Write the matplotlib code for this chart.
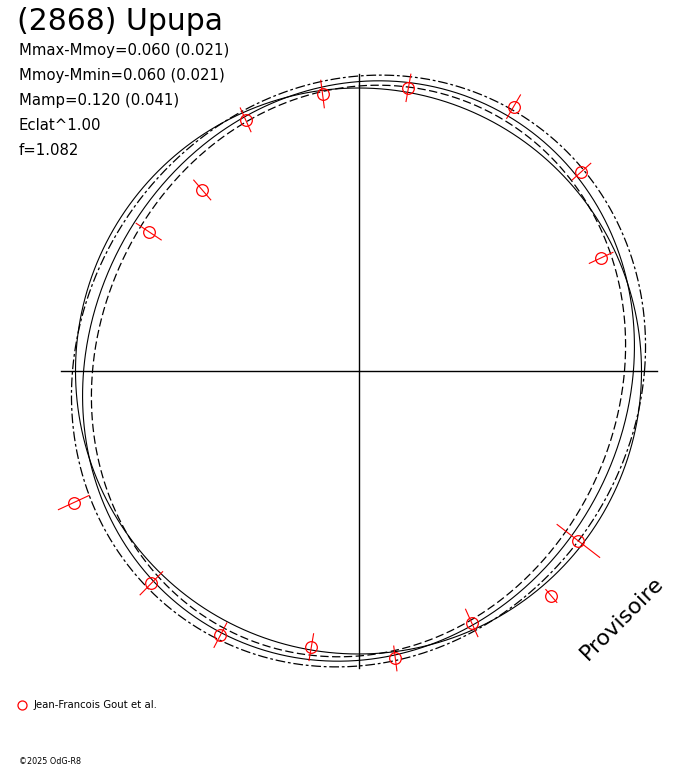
import numpy as np
import matplotlib
matplotlib.use('Agg')
from matplotlib import pyplot as plt

plt.rcParams['font.family'] = ['DejaVu Sans']
plt.rcParams['lines.scale_dashes'] = False

# texts
title = '(2868) Upupa'
info = ['Mmax-Mmoy=0.060 (0.021)', 'Mmoy-Mmin=0.060 (0.021)',
        'Mamp=0.120 (0.041)', 'Eclat^1.00', 'f=1.082']
observer = 'Jean-Francois Gout et al.'

# observations: angle (deg), radius (ref circle = 1), half error bar
obs_ang = [25.0, 41.8, 59.6, 80.0, 97.4, 114.2, 130.8, 146.4,
           204.8, 225.7, 242.4, 260.3, 277.3, 294.2, 310.6, 322.3]
obs_r = [0.946, 1.057, 1.083, 1.016, 0.987, 0.973, 0.845, 0.890,
         1.108, 1.048, 1.053, 0.990, 1.024, 0.976, 1.047, 0.982]
obs_err = [0.046, 0.044, 0.048, 0.049, 0.049, 0.046, 0.046, 0.053,
           0.060, 0.057, 0.049, 0.048, 0.044, 0.053, 0.030, 0.095]

# lightcurve model, 2nd harmonic: mean, cos(2t), sin(2t)
model = [0.997, -0.0256, 0.0400]
upper = [1.0265, -0.0159, 0.0420]
lower = [0.9735, -0.0336, 0.0400]

R = 283.0  # px of reference circle
cx, cy = 358.5, 371.0

fig = plt.figure(figsize=(6.88, 7.68), dpi=100)
ax = fig.add_axes([0, 0, 1, 1])
ax.set_xlim(-cx / R, (688 - cx) / R)
ax.set_ylim(-(768 - cy) / R, cy / R)
ax.axis('off')

ax.plot([-1.053, 1.056], [0, 0], color='black', lw=1.0)
ax.plot([0, 0], [-1.05, 1.05], color='black', lw=1.0)

t = np.radians(np.linspace(0, 360, 721))
ax.plot(np.cos(t), np.sin(t), color='black', lw=0.8)

def curve(c):
    return c[0] + c[1] * np.cos(2 * t) + c[2] * np.sin(2 * t)

r = curve(model)
ax.plot(r * np.cos(t), r * np.sin(t), color='black', lw=0.8)
r = curve(upper)
ax.plot(r * np.cos(t), r * np.sin(t), color='black', lw=0.9, dashes=(7, 2, 2, 2))
r = curve(lower)
ax.plot(r * np.cos(t), r * np.sin(t), color='black', lw=0.9, dashes=(6, 2.5))

a = np.radians(obs_ang)
rr = np.array(obs_r)
ee = np.array(obs_err)
for ai, ri, ei in zip(a, rr, ee):
    ax.plot([(ri - ei) * np.cos(ai), (ri + ei) * np.cos(ai)],
            [(ri - ei) * np.sin(ai), (ri + ei) * np.sin(ai)], color='red', lw=0.8)
ax.plot(rr * np.cos(a), rr * np.sin(a), 'o', mfc='none', mec='red', ms=8.4, mew=0.9)

fig.text(17 / 688, 1 - 22 / 768, title, fontsize=21.5, va='center', ha='left')
for i, s in enumerate(info):
    fig.text(19 / 688, 1 - (51 + 24.8 * i) / 768, s, fontsize=10.7, va='center', ha='left')

fig.text(622 / 688, 1 - 618 / 768, 'Provisoire', fontsize=16, rotation=45,
         ha='center', va='center')

fig.lines.append(plt.Line2D([22 / 688], [1 - 705 / 768], marker='o', mfc='none',
                            mec='red', ms=6.5, mew=0.9, transform=fig.transFigure))
fig.text(34 / 688, 1 - 705 / 768, observer, fontsize=7.3, va='center', ha='left')
fig.text(19 / 688, 1 - 762 / 768, '©2025 OdG-R8', fontsize=5.8, va='center', ha='left')

fig.savefig('out.png', dpi=100)
